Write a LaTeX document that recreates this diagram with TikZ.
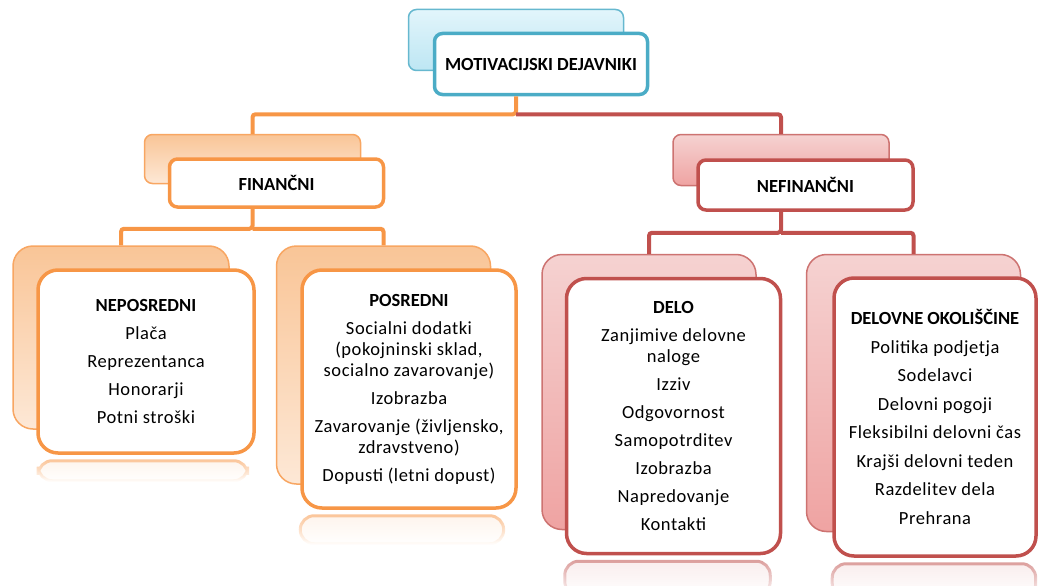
\documentclass[tikz,border=0pt]{standalone}
\usepackage{fontspec}
\setmainfont{Carlito}[LetterSpace=3,BoldFeatures={LetterSpace=0}]
\usepackage{xcolor}
\usetikzlibrary{positioning, calc, fadings}

\definecolor{bluebd}{HTML}{4BACC6}
\definecolor{orangebd}{HTML}{F79646}
\definecolor{redbd}{HTML}{C0504D}
\definecolor{bluetop}{HTML}{E2F5FB}
\definecolor{bluebot}{HTML}{BDE6F3}
\definecolor{orangetop}{HTML}{F9C597}
\definecolor{orangebot}{HTML}{FDE8D6}
\definecolor{redtop}{HTML}{F5D2D1}
\definecolor{redbot}{HTML}{EFA3A2}

\begin{document}
\begin{tikzpicture}[
    x=1pt, y=-1pt,
    card/.style={draw, line width=3.5pt, fill=white, align=center, font=\fontsize{18.5}{21}\selectfont},
    head/.style={card, rounded corners=8pt},
    list/.style={card, rounded corners=20pt},
    back/.style={draw, line width=1.5pt, inner sep=0pt},
    blueback/.style={back, draw=bluebd!85, top color=bluetop, bottom color=bluebot},
    orangeback/.style={back, draw=orangebd!85, top color=orangetop, bottom color=orangebot},
    redback/.style={back, draw=redbd!80, top color=redtop, bottom color=redbot},
    mirror/.style={line width=3pt, rounded corners=14pt, draw=#1!55, fill=#1!10, path fading=south},
    link/.style={line width=4pt, rounded corners=3pt}
]
\useasboundingbox (0,0) rectangle (1039,586);

% Top layer
\node[blueback, rounded corners=8pt, minimum width=215pt, minimum height=61pt] (topb) at (516,40) {};
\node[head, draw=bluebd, minimum width=213pt, minimum height=61pt] (top) at ($(topb)+(25,24)$) {\textbf{MOTIVACIJSKI DEJAVNIKI}};

% Middle layer
\node[orangeback, rounded corners=8pt, minimum width=216pt, minimum height=49pt] (finb) at (252.5,159) {};
\node[head, draw=orangebd, minimum width=214pt, minimum height=48pt] (fin) at ($(finb)+(24,24)$) {\textbf{FINANČNI}};

\node[redback, rounded corners=8pt, minimum width=216pt, minimum height=51pt] (nfinb) at (781,160) {};
\node[head, draw=redbd, minimum width=215pt, minimum height=50pt] (nfin) at ($(nfinb)+(24.5,25)$) {\textbf{NEFINANČNI}};

% Bottom layer
\node[orangeback, rounded corners=20pt, minimum width=216pt, minimum height=183pt] (nepb) at (121,337.5) {};
\node[list, draw=orangebd, minimum width=216pt, minimum height=183pt] (nep) at ($(nepb)+(25,24)$) {
    \textbf{NEPOSREDNI}\\[7pt]
    Plača\\[7pt]
    Reprezentanca\\[7pt]
    Honorarji\\[7pt]
    Potni stroški
};

\node[orangeback, rounded corners=20pt, minimum width=214pt, minimum height=238pt] (posb) at (383.5,365) {};
\node[list, draw=orangebd, minimum width=214pt, minimum height=238pt] (pos) at ($(posb)+(25.5,24)$) {
    \textbf{POSREDNI}\\[7pt]
    Socialni dodatki\\
    (pokojninski sklad,\\
    socialno zavarovanje)\\[7pt]
    Izobrazba\\[7pt]
    Zavarovanje (življensko,\\
    zdravstveno)\\[7pt]
    Dopusti (letni dopust)
};

\node[redback, rounded corners=20pt, minimum width=214pt, minimum height=275pt] (delob) at (649,392) {};
\node[list, draw=redbd, minimum width=214pt, minimum height=275pt] (delo) at ($(delob)+(24.5,24)$) {
    \textbf{DELO}\\[7pt]
    Zanjimive delovne\\
    naloge\\[7pt]
    Izziv\\[7pt]
    Odgovornost\\[7pt]
    Samopotrditev\\[7pt]
    Izobrazba\\[7pt]
    Napredovanje\\[7pt]
    Kontakti
};

\node[redback, rounded corners=20pt, minimum width=214pt, minimum height=277pt] (okolb) at (913.5,393) {};
\node[list, draw=redbd, minimum width=202pt, minimum height=278pt] (okol) at ($(okolb)+(21.5,24)$) {
    \textbf{DELOVNE OKOLIŠČINE}\\[7.5pt]
    Politika podjetja\\[7.5pt]
    Sodelavci\\[7.5pt]
    Delovni pogoji\\[7.5pt]
    Fleksibilni delovni čas\\[7.5pt]
    Krajši delovni teden\\[7.5pt]
    Razdelitev dela\\[7.5pt]
    Prehrana
};

% Reflections
\path[mirror=orangebd] ($(nep.south west)+(2,6)$) rectangle ($(nep.south east)+(-8,26)$);
\path[mirror=orangebd] ($(pos.south west)+(0,6)$) rectangle ($(pos.south east)+(-14,34)$);
\path[mirror=redbd] ($(delo.south west)+(0,6)$) rectangle ($(delo.south east)+(-12,40)$);
\path[mirror=redbd] ($(okol.south west)+(0,6)$) rectangle ($(okol.south east)+(-2,40)$);

% Connectors
\draw[link, orangebd] (topb.center |- top.south) -- ++(0,18) coordinate (jtop) -| (finb.north);
\draw[link, redbd] (jtop) -| (nfinb.north);
\draw[link, orangebd] (finb.center |- fin.south) -- ++(0,20) coordinate (jfin) -| (nepb.north);
\draw[link, orangebd] (jfin) -| (posb.north);
\draw[link, redbd] (nfinb.center |- nfin.south) -- ++(0,21) coordinate (jnfin) -| (delob.north);
\draw[link, redbd] (jnfin) -| (okolb.north);

\end{tikzpicture}
\end{document}
